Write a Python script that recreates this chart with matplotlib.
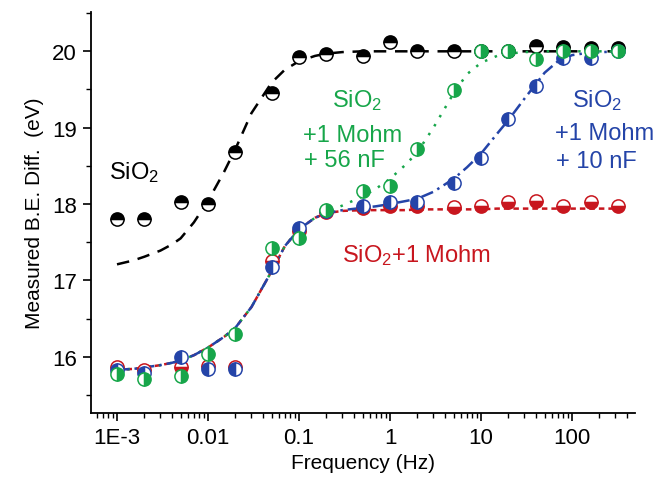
import numpy as np
import matplotlib
matplotlib.use('Agg')
from matplotlib import pyplot as plt
from matplotlib.ticker import FixedLocator, FixedFormatter, LogLocator, MultipleLocator

plt.rcParams['font.family'] = ['Liberation Sans', 'DejaVu Sans']
plt.rcParams['mathtext.fontset'] = 'custom'
plt.rcParams['mathtext.rm'] = 'Liberation Sans'
plt.rcParams['mathtext.it'] = 'Liberation Sans:italic'

# measurement frequencies (Hz)
FREQ = [1e-3, 2e-3, 5e-3, 0.01, 0.02, 0.05, 0.1, 0.2, 0.5, 1, 2, 5, 10, 20, 40, 80, 160, 320]

# measured binding energy difference (eV)
SIO2 = [17.80, 17.80, 18.02, 18.00, 18.68, 19.46, 19.92, 19.96, 19.94, 20.12,
        20.01, 20.00, 20.00, 20.00, 20.07, 20.06, 20.05, 20.04]
SIO2_R = [15.86, 15.82, 15.86, 15.88, 15.87, 17.26, 17.65, 17.90, 17.95, 17.98,
          17.98, 17.96, 17.98, 18.02, 18.04, 17.98, 18.02, 17.98]
SIO2_R_10NF = [15.83, 15.79, 16.00, 15.84, 15.84, 17.17, 17.69, 17.91, 17.98, 18.02,
               18.02, 18.28, 18.60, 19.11, 19.55, 19.91, 19.91, 20.00]
SIO2_R_56NF = [15.77, 15.71, 15.75, 16.04, 16.30, 17.43, 17.55, 17.92, 18.17, 18.24,
               18.72, 19.49, 20.00, 20.00, 19.90, 20.00, 20.00, 20.00]

# fitted curves
FIT_F = [1e-3, 1.5e-3, 2e-3, 3e-3, 4e-3, 5e-3, 7e-3, 0.01, 0.015, 0.02, 0.03, 0.05, 0.07, 0.1, 0.15,
         0.2, 0.3, 0.5, 0.7, 1, 1.5, 2, 3, 5, 7, 10, 15, 20, 30, 50, 70, 100, 150, 320]
FIT_SIO2 = [17.21, 17.26, 17.31, 17.39, 17.47, 17.55, 17.76, 18.04, 18.42, 18.72, 19.19, 19.59, 19.76,
            19.87, 19.94, 19.97, 19.99, 20.00, 20.00, 20.00, 20.00, 20.00, 20.00, 20.00, 20.00, 20.00,
            20.00, 20.00, 20.00, 20.00, 20.00, 20.00, 20.00, 20.00]
FIT_R = [15.83, 15.84, 15.86, 15.89, 15.92, 15.95, 16.02, 16.12, 16.26, 16.38, 16.65, 17.12, 17.45,
         17.67, 17.82, 17.88, 17.91, 17.92, 17.92, 17.92, 17.92, 17.93, 17.93, 17.93, 17.93, 17.93,
         17.94, 17.94, 17.94, 17.94, 17.94, 17.94, 17.94, 17.94]
FIT_R_10NF = [15.83, 15.84, 15.86, 15.89, 15.92, 15.95, 16.02, 16.12, 16.26, 16.38, 16.65, 17.12, 17.45,
              17.67, 17.82, 17.88, 17.92, 17.95, 17.97, 18.00, 18.04, 18.07, 18.16, 18.33, 18.48, 18.66,
              18.92, 19.10, 19.38, 19.72, 19.87, 19.95, 19.98, 20.00]
FIT_R_56NF = [15.83, 15.84, 15.86, 15.89, 15.92, 15.95, 16.02, 16.12, 16.26, 16.38, 16.65, 17.12, 17.45,
              17.67, 17.82, 17.90, 17.98, 18.10, 18.20, 18.33, 18.52, 18.68, 19.00, 19.45, 19.70, 19.85,
              19.94, 19.97, 19.99, 20.00, 20.00, 20.00, 20.00, 20.00]

XTICKS = [1e-3, 1e-2, 1e-1, 1, 10, 100]
XTICK_LABELS = ['1E-3', '0.01', '0.1', '1', '10', '100']
YTICKS = [16, 17, 18, 19, 20]

BLACK = 'black'
RED = '#c8161e'
BLUE = '#2444a8'
GREEN = '#17a64a'

fig = plt.figure(figsize=(6.55, 4.85), dpi=100)
ax = fig.add_axes([91/655, 71/485, 544/655, 401/485])

# fit lines
ax.plot(FIT_F, FIT_SIO2, color=BLACK, lw=1.8, dashes=(5, 3.5), zorder=1)
ax.plot(FIT_F, FIT_R, color=RED, lw=1.8, dashes=(2.2, 1.6), zorder=1)
ax.plot(FIT_F, FIT_R_56NF, color=GREEN, lw=1.8, dashes=(1, 3.2), zorder=1)
ax.plot(FIT_F, FIT_R_10NF, color=BLUE, lw=1.8, dashes=(5, 2, 1, 2), zorder=1)

# half-filled markers
mk = dict(ls='none', marker='o', ms=9.5, mew=1.1, markerfacecoloralt='white', zorder=3)
ax.plot(FREQ, SIO2, color=BLACK, mfc=BLACK, mec=BLACK, fillstyle='top', **mk)
ax.plot(FREQ, SIO2_R, color=RED, mfc=RED, mec=RED, fillstyle='bottom', **mk)
ax.plot(FREQ, SIO2_R_10NF, color=BLUE, mfc=BLUE, mec=BLUE, fillstyle='left', **mk)
ax.plot(FREQ, SIO2_R_56NF, color=GREEN, mfc=GREEN, mec=GREEN, fillstyle='right', **mk)

ax.set_xscale('log')
ax.set_xlim(5.18e-4, 492)
ax.set_ylim(15.263, 20.515)

ax.xaxis.set_major_locator(FixedLocator(XTICKS))
ax.xaxis.set_major_formatter(FixedFormatter(XTICK_LABELS))
ax.xaxis.set_minor_locator(LogLocator(base=10, subs=np.arange(2, 10), numticks=20))
ax.yaxis.set_major_locator(FixedLocator(YTICKS))
ax.yaxis.set_minor_locator(MultipleLocator(0.5))

ax.spines['top'].set_visible(False)
ax.spines['right'].set_visible(False)
for s in ('left', 'bottom'):
    ax.spines[s].set_linewidth(1.3)
ax.tick_params(which='major', direction='out', length=6, width=1.2, labelsize=16, pad=4)
ax.tick_params(which='minor', direction='out', length=3.5, width=1.0)

ax.set_xlabel('Frequency (Hz)', fontsize=15, labelpad=4)
ax.set_ylabel('Measured B.E. Diff.  (eV)', fontsize=15, labelpad=6)

def ftext(px, py, s, color, size=17):
    fig.text(px/655, 1 - py/485, s, color=color, fontsize=size, ha='left', va='baseline')

ftext(109, 179, 'SiO$_2$', BLACK)
ftext(332, 107, 'SiO$_2$', GREEN)
ftext(303, 142, '+1 Mohm', GREEN)
ftext(304, 167, '+ 56 nF', GREEN)
ftext(572, 107, 'SiO$_2$', BLUE)
ftext(555, 140, '+1 Mohm', BLUE)
ftext(556, 168, '+ 10 nF', BLUE)
ftext(342, 262, 'SiO$_2$+1 Mohm', RED)

fig.savefig('out.png', dpi=100)
